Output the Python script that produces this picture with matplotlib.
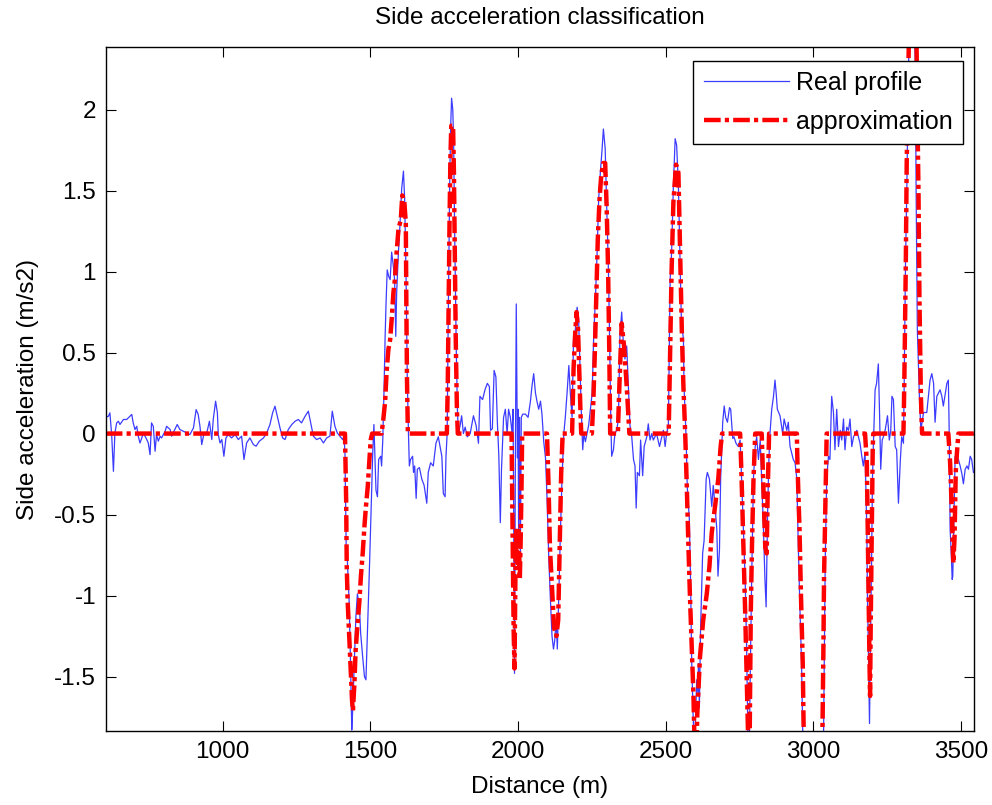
import matplotlib
matplotlib.use('Agg')
import matplotlib.pyplot as plt

# ---------------------------------------------------------------------------
# Data (distance in m, side acceleration in m/s2)
# ---------------------------------------------------------------------------
real_x = [
    604, 613, 618, 624, 630, 635, 641, 647, 652, 664, 675, 686, 692, 697, 703,
    709, 714, 720, 726, 731, 743, 748, 754, 759, 765, 771, 776, 782, 788, 793,
    805, 810, 822, 827, 838, 846, 855, 867, 878, 889, 901, 910, 917, 923, 929,
    937, 946, 955, 963, 968, 976, 982, 985, 991, 997, 1004, 1011, 1019, 1030,
    1042, 1053, 1064, 1072, 1081, 1092, 1104, 1113, 1124, 1138, 1149, 1160,
    1169, 1177, 1185, 1194, 1203, 1211, 1222, 1234, 1245, 1256, 1267, 1279,
    1290, 1298, 1307, 1318, 1330, 1341, 1352, 1363, 1371, 1380, 1388, 1397,
    1406, 1411, 1414, 1418, 1422, 1428, 1433, 1437, 1440, 1445, 1451, 1456,
    1463, 1467, 1474, 1480, 1485, 1490, 1497, 1501, 1508, 1512, 1519, 1524,
    1528, 1535, 1538, 1542, 1546, 1550, 1553, 1557, 1562, 1567, 1572, 1578,
    1582, 1586, 1589, 1595, 1600, 1606, 1612, 1616, 1621, 1625, 1629, 1632,
    1636, 1643, 1646, 1650, 1655, 1659, 1666, 1674, 1682, 1691, 1696, 1704,
    1713, 1722, 1730, 1736, 1742, 1747, 1753, 1756, 1760, 1763, 1766, 1769,
    1772, 1775, 1779, 1782, 1785, 1788, 1791, 1795, 1798, 1804, 1809, 1815,
    1821, 1828, 1838, 1849, 1858, 1866, 1871, 1880, 1888, 1896, 1903, 1907,
    1913, 1919, 1925, 1930, 1935, 1940, 1944, 1951, 1957, 1963, 1968, 1974,
    1980, 1983, 1985, 1988, 1991, 1994, 1998, 2000, 2002, 2005, 2008, 2011,
    2016, 2025, 2034, 2042, 2047, 2053, 2059, 2064, 2070, 2076, 2081, 2087,
    2093, 2098, 2104, 2109, 2115, 2120, 2124, 2129, 2133, 2138, 2143, 2149,
    2155, 2160, 2166, 2172, 2177, 2183, 2188, 2194, 2200, 2205, 2211, 2214,
    2219, 2223, 2228, 2239, 2251, 2256, 2262, 2268, 2273, 2279, 2284, 2289,
    2295, 2300, 2306, 2309, 2314, 2317, 2323, 2328, 2334, 2340, 2345, 2351,
    2357, 2362, 2368, 2374, 2379, 2385, 2391, 2396, 2400, 2404, 2411, 2415,
    2422, 2427, 2436, 2441, 2447, 2453, 2458, 2469, 2479, 2487, 2492, 2498,
    2503, 2509, 2515, 2520, 2526, 2532, 2537, 2543, 2549, 2553, 2560, 2562,
    2569, 2573, 2580, 2584, 2588, 2593, 2597, 2601, 2605, 2609, 2611, 2614,
    2618, 2625, 2630, 2637, 2641, 2648, 2656, 2661, 2667, 2673, 2677, 2682,
    2686, 2693, 2698, 2703, 2709, 2716, 2720, 2727, 2731, 2738, 2746, 2752,
    2757, 2763, 2769, 2774, 2779, 2783, 2786, 2791, 2797, 2803, 2808, 2814,
    2820, 2825, 2831, 2836, 2840, 2842, 2845, 2849, 2853, 2859, 2865, 2870,
    2874, 2878, 2887, 2896, 2901, 2910, 2915, 2921, 2932, 2938, 2944, 2949,
    2955, 2960, 2965, 2990, 3015, 3034, 3040, 3045, 3051, 3056, 3062, 3068,
    3073, 3079, 3085, 3091, 3096, 3102, 3107, 3113, 3119, 3124, 3130, 3136,
    3147, 3158, 3164, 3169, 3175, 3181, 3183, 3186, 3190, 3193, 3197, 3200,
    3203, 3209, 3214, 3220, 3224, 3228, 3233, 3237, 3243, 3251, 3257, 3262,
    3266, 3271, 3277, 3282, 3288, 3294, 3299, 3305, 3307, 3312, 3316, 3321,
    3325, 3340, 3345, 3348, 3352, 3359, 3364, 3373, 3384, 3395, 3401, 3407,
    3412, 3418, 3429, 3435, 3440, 3452, 3457, 3460, 3463, 3467, 3470, 3472,
    3476, 3480, 3486, 3491, 3497, 3503, 3508, 3514, 3520, 3525, 3531, 3536,
    3542,
]
real_y = [
    0.10, 0.107, 0.128, -0.006, -0.233, 0.004, 0.066, 0.076, 0.056, 0.087,
    0.087, 0.107, 0.118, 0.066, 0.025, 0.045, -0.016, -0.058, -0.027, 0.004,
    -0.037, -0.058, -0.13, 0.066, 0.045, -0.109, -0.006, -0.047, -0.016,
    -0.027, 0.014, 0.045, 0.025, -0.016, 0.025, 0.056, 0.025, 0.014, 0.004,
    -0.006, 0.035, 0.148, 0.118, 0.045, -0.068, 0.004, 0.004, 0.076, -0.037,
    0.087, 0.2, 0.128, -0.006, -0.058, -0.037, -0.14, -0.027, -0.006, -0.027,
    -0.006, -0.037, -0.016, -0.16, -0.058, -0.027, -0.068, -0.078, -0.047,
    -0.027, 0.004, 0.056, 0.128, 0.169, 0.107, 0.035, -0.027, -0.037, 0.025,
    0.056, 0.076, 0.087, 0.066, 0.107, 0.138, 0.066, -0.016, -0.037, -0.027,
    -0.058, -0.027, -0.016, 0.138, 0.045, 0.004, -0.016, -0.037, -0.02,
    -0.12, -0.68, -0.78, -1.03, -1.44, -1.83, -1.71, -1.44, -1.13, -0.99,
    -1.07, -1.23, -1.38, -1.5, -1.52, -1.23, -0.82, -0.57, -0.12, 0.056,
    -0.35, -0.39, -0.16, -0.14, -0.2, -0.04, 0.25, 0.6, 0.8, 1.01, 0.97,
    0.95, 1.12, 1.03, 0.95, 0.6, 0.87, 1.12, 1.28, 1.51, 1.62, 1.45, 0.95,
    0.33, 0.0, -0.2, -0.16, -0.14, -0.24, -0.2, -0.4, -0.22, -0.21, -0.28,
    -0.32, -0.43, -0.24, -0.18, -0.2, -0.06, -0.02, -0.08, -0.14, -0.37,
    -0.39, -0.14, 0.0, 0.6, 1.1, 1.6, 1.9, 2.07, 2.0, 1.8, 1.3, 0.9, 0.5,
    0.13, 0.0, 0.05, 0.11, 0.0, 0.04, -0.02, 0.0, 0.11, 0.05, -0.06, 0.23,
    0.21, 0.27, 0.31, 0.29, 0.02, 0.03, 0.39, 0.35, 0.07, -0.14, -0.55,
    -0.22, 0.1, 0.15, 0.0, 0.15, 0.1, 0.0, 0.15, -0.39, -1.48, -0.15, 0.8,
    -0.15, 0.15, -0.64, 0.1, -0.76, 0.1, 0.12, 0.12, 0.1, 0.2, 0.29, 0.37,
    0.25, 0.2, 0.15, 0.2, 0.12, -0.05, -0.15, -0.39, -0.76, -1.0, -1.25,
    -1.33, -1.28, -1.15, -1.33, -1.0, -0.64, -0.27, 0.0, 0.1, 0.25, 0.42,
    0.25, 0.1, 0.59, 0.64, 0.78, 0.71, 0.34, 0.15, -0.1, 0.0, -0.05, 0.05,
    0.25, 0.59, 0.83, 1.13, 1.45, 1.62, 1.74, 1.88, 1.76, 1.43, 1.01, 0.7,
    0.09, -0.14, -0.1, 0.0, 0.02, 0.09, 0.6, 0.75, 0.54, 0.46, 0.54, 0.27,
    0.05, -0.02, -0.16, -0.2, -0.46, -0.24, -0.26, -0.04, -0.26, -0.08,
    -0.02, 0.06, -0.04, 0.0, -0.04, 0.0, -0.08, -0.02, 0.02, -0.08, 0.0,
    0.05, 0.95, 1.12, 1.53, 1.82, 1.78, 1.53, 1.03, 0.7, 0.58, 0.29, -0.02,
    -0.33, -0.53, -0.9, -1.4, -1.75, -1.95, -1.75, -1.52, -1.6, -1.42, -1.69,
    -1.21, -0.74, -0.66, -0.28, -0.24, -0.28, -0.45, -0.32, -0.45, -0.59,
    -0.88, -0.72, -0.28, 0.07, 0.17, 0.1, 0.07, 0.16, 0.15, -0.03, -0.02,
    -0.06, -0.08, -0.04, -0.28, -0.59, -0.9, -1.32, -1.95, -1.95, -1.52,
    -0.9, -0.28, -0.08, -0.02, -0.16, -0.04, -0.28, -0.59, -0.9, -1.07,
    -0.82, -0.49, -0.18, 0.0, 0.15, 0.23, 0.33, 0.25, 0.15, 0.11, 0.0, 0.09,
    0.02, 0.07, -0.08, -0.16, -0.18, -0.28, -0.7, -1.11, -1.42, -1.95, -2.3,
    -2.3, -1.95, -0.8, -0.28, -0.14, -0.16, 0.23, 0.13, -0.1, 0.15, -0.08,
    0.02, -0.04, 0.09, -0.1, 0.04, 0.02, 0.09, -0.08, -0.02, 0.02, -0.06,
    -0.14, -0.2, -0.12, -0.59, -1.0, -1.31, -1.79, -1.31, -0.8, -0.28, -0.08,
    0.27, 0.31, 0.43, 0.13, -0.22, -0.04, -0.02, 0.02, 0.11, -0.04, 0.02,
    0.23, 0.21, -0.08, -0.1, -0.43, -0.18, -0.02, -0.06, 0.23, 1.06, 1.47,
    2.09, 2.6, 2.6, 2.3, 1.47, 0.64, 0.23, 0.02, 0.13, 0.13, 0.33, 0.37,
    0.31, 0.07, 0.23, 0.27, 0.23, 0.17, 0.31, 0.33, 0.0, -0.59, -0.75, -0.9,
    -0.88, -0.51, -0.14, -0.16, -0.16, -0.2, -0.25, -0.31, -0.22, -0.2,
    -0.22, -0.14, -0.16, -0.24,
]

approx_x = [
    604, 1414, 1416, 1418, 1420, 1423, 1428, 1433, 1438, 1441, 1446, 1450,
    1456, 1463, 1468, 1474, 1480, 1485, 1491, 1497, 1501, 1506, 1538, 1544,
    1550, 1555, 1561, 1567, 1572, 1578, 1583, 1589, 1595, 1603, 1608, 1615,
    1620, 1622, 1624, 1627, 1759, 1762, 1765, 1768, 1771, 1774, 1780, 1783,
    1786, 1789, 1793, 1796, 1978, 1981, 1985, 1988, 1991, 1994, 1998, 2002,
    2006, 2009, 2012, 2014, 2098, 2103, 2108, 2115, 2122, 2130, 2136, 2141,
    2146, 2151, 2183, 2188, 2193, 2198, 2203, 2207, 2212, 2214, 2250, 2255,
    2260, 2265, 2270, 2276, 2282, 2289, 2295, 2300, 2305, 2309, 2312, 2338,
    2343, 2351, 2359, 2368, 2377, 2510, 2515, 2520, 2526, 2535, 2543, 2549,
    2555, 2560, 2566, 2571, 2577, 2582, 2588, 2594, 2598, 2604, 2607, 2616,
    2627, 2639, 2648, 2656, 2667, 2678, 2686, 2691, 2752, 2757, 2763, 2769,
    2774, 2780, 2784, 2788, 2792, 2797, 2803, 2825, 2828, 2833, 2837, 2842,
    2845, 2850, 2944, 2946, 2953, 2958, 2964, 2968, 2990, 3015, 3030, 3034,
    3036, 3040, 3043, 3045, 3175, 3181, 3184, 3187, 3190, 3192, 3194, 3198,
    3201, 3203, 3305, 3308, 3313, 3316, 3322, 3325, 3348, 3350, 3356, 3359,
    3364, 3368, 3457, 3463, 3469, 3472, 3474, 3478, 3482, 3486, 3491, 3544,
]
approx_y = [
    0, 0, -0.2, -0.41, -0.82, -1.03, -1.23, -1.44, -1.65, -1.71, -1.54,
    -1.34, -1.19, -1.03, -0.88, -0.74, -0.57, -0.45, -0.33, -0.16, -0.04, 0,
    0, 0.09, 0.2, 0.38, 0.52, 0.58, 0.7, 0.87, 0.95, 1.12, 1.26, 1.32, 1.47,
    1.43, 1.3, 0.75, 0.33, 0, 0, 0.3, 0.8, 1.3, 1.7, 1.9, 1.9, 1.6, 1.1,
    0.6, 0.15, 0, 0, -0.5, -1.2, -1.45, -0.9, -0.6, -0.8, -0.6, -0.9, -0.65,
    -0.3, 0, 0, -0.3, -0.7, -0.95, -1.2, -1.25, -1.15, -0.7, -0.25, 0, 0,
    0.4, 0.6, 0.75, 0.65, 0.4, 0.1, 0, 0, 0.2, 0.5, 0.85, 1.2, 1.45, 1.6,
    1.67, 1.67, 1.4, 1.0, 0.5, 0, 0, 0.29, 0.68, 0.54, 0.29, 0, 0, 0.5,
    1.01, 1.43, 1.66, 1.61, 1.12, 0.6, 0.29, 0, -0.3, -0.7, -1.0, -1.32,
    -1.62, -1.95, -1.95, -1.73, -1.38, -1.15, -0.99, -0.82, -0.61, -0.45,
    -0.28, -0.08, 0, 0, -0.28, -0.7, -1.1, -1.5, -1.95, -1.95, -1.11, -0.7,
    -0.3, 0, 0, -0.18, -0.49, -0.7, -0.74, -0.39, 0, 0, -0.18, -0.59, -1.0,
    -1.42, -1.95, -2.3, -2.3, -1.95, -1.32, -0.9, -0.49, -0.18, 0, 0, -0.18,
    -0.59, -1.0, -1.41, -1.62, -1.2, -0.59, -0.08, 0, 0, 0.33, 1.06, 1.67,
    2.29, 2.6, 2.6, 2.29, 1.47, 0.85, 0.23, 0, 0, -0.18, -0.49, -0.7, -0.8,
    -0.64, -0.24, -0.12, 0, 0,
]

x_ticks = [1000, 1500, 2000, 2500, 3000, 3500]
y_ticks = [-1.5, -1, -0.5, 0, 0.5, 1, 1.5, 2]

# ---------------------------------------------------------------------------
# Figure
# ---------------------------------------------------------------------------
plt.rcParams['font.family'] = ['Liberation Sans', 'DejaVu Sans']
plt.rcParams['axes.unicode_minus'] = False
plt.rcParams['lines.scale_dashes'] = False

FS = 17.5

fig = plt.figure(figsize=(9.92, 8.05), dpi=100)
ax = fig.add_axes([0.1066, 0.0919, 0.8753, 0.8501])

ax.plot(real_x, real_y, color='#3c3cff', linewidth=0.9, label='Real profile')
ax.plot(approx_x, approx_y, color='#ff0000', linewidth=3.2,
        dashes=(12, 3, 3, 3), label='approximation')

ax.set_xlim(604, 3544)
ax.set_ylim(-1.836, 2.388)
ax.set_xticks(x_ticks)
ax.set_yticks(y_ticks)
ax.set_yticklabels(['%g' % v for v in y_ticks])
ax.tick_params(direction='in', length=7, width=0.8, labelsize=FS,
               top=True, right=True, pad=7)
for s in ax.spines.values():
    s.set_linewidth(1.0)

fig.text(0.5442, 1 - 18 / 805, 'Side acceleration classification',
         ha='center', va='center', fontsize=FS)
fig.text(0.5442, 1 - 787 / 805, 'Distance (m)',
         ha='center', va='center', fontsize=FS)
fig.text(28 / 992, 1 - 389 / 805, 'Side acceleration (m/s2)',
         ha='center', va='center', rotation=90, fontsize=FS)

leg = ax.legend(loc='upper right', bbox_to_anchor=(963 / 992, 1 - 61 / 805),
                bbox_transform=fig.transFigure, borderaxespad=0,
                fontsize=18, fancybox=False, framealpha=1, edgecolor='black',
                handlelength=3.4, labelspacing=0.58, borderpad=0.41,
                handletextpad=0.3)
leg.get_frame().set_linewidth(1.0)

fig.savefig('out.png', dpi=100)
